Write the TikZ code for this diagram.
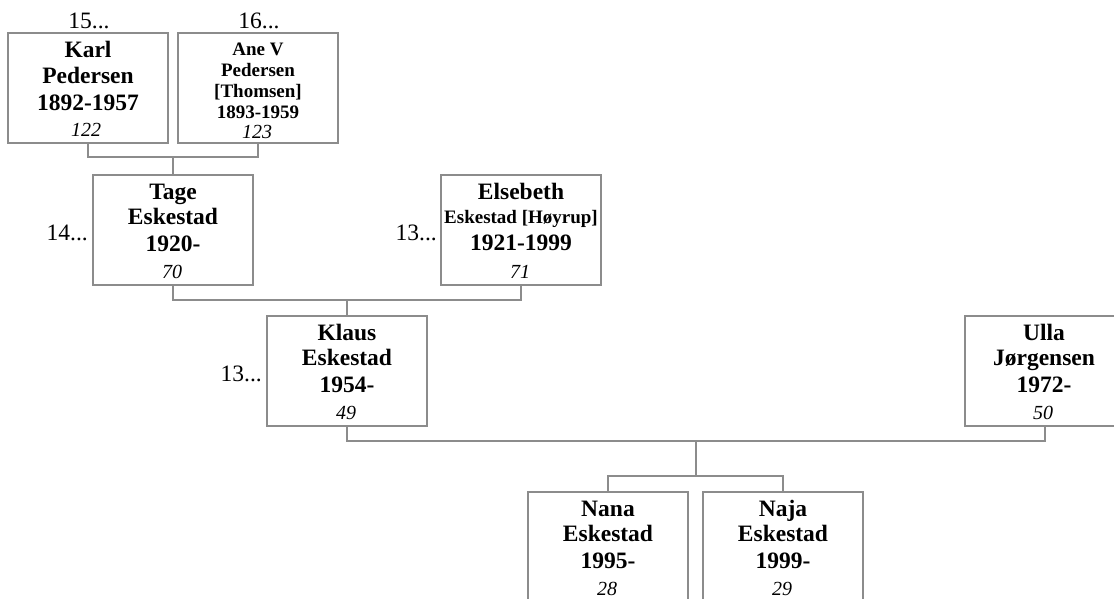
\documentclass[tikz,border=0pt]{standalone}
\usepackage{fontspec}
\setmainfont{Liberation Serif}
\definecolor{frame}{RGB}{140,140,140}
\begin{document}
\begin{tikzpicture}[x=1pt,y=-1pt,
  box/.style={draw=frame,line width=1.2pt,minimum width=160pt,minimum height=110pt,inner sep=0pt,fill=white},
  wire/.style={draw=frame,line width=1.2pt},
  big/.style={anchor=base,inner sep=0pt,font=\fontsize{23.5}{26}\selectfont\bfseries},
  mid/.style={anchor=base,inner sep=0pt,font=\fontsize{19}{21}\selectfont\bfseries},
  num/.style={anchor=base,inner sep=0pt,font=\fontsize{20}{21}\selectfont\itshape},
  gen/.style={anchor=base,inner sep=0pt,font=\fontsize{23.5}{26}\selectfont},
]
\useasboundingbox (0,0) rectangle (1114,598);
\clip (0,0) rectangle (1114,598);

% boxes
\node[box] (karl)  at (88,88)   {};
\node[box] (ane)   at (258,88)  {};
\node[box] (tage)  at (173,230) {};
\node[box] (else)  at (521,230) {};
\node[box] (klaus) at (347,371) {};
\node[box] (ulla)  at (1045,371) {};
\node[box] (nana)  at (608,547) {};
\node[box] (naja)  at (783,547) {};

% connectors
\coordinate (j1) at (173,157);
\draw[wire] (karl.south) |- (j1) -| (ane.south);
\draw[wire] (j1) -- (tage.north);
\coordinate (j2) at (347,300);
\draw[wire] (tage.south) |- (j2) -| (else.south);
\draw[wire] (j2) -- (klaus.north);
\coordinate (j3) at (696,441);
\coordinate (j4) at (696,476);
\draw[wire] (klaus.south) |- (j3) -| (ulla.south);
\draw[wire] (j3) -- (j4);
\draw[wire] (nana.north) |- (j4) -| (naja.north);

% generation labels
\node[gen] (g15) at (89,28) {15...};
\node[gen] (g16) at (259,28) {16...};
\node[gen,anchor=base east] (g14) at (88,240) {14...};
\node[gen,anchor=base east] (g13a) at (437,240) {13...};
\node[gen,anchor=base east] (g13b) at (262,381) {13...};

% Karl
\node[big] (karl1) at (88,57)  {Karl};
\node[big] (karl2) at (88,83)  {Pedersen};
\node[big] (karl3) at (88,110) {1892-1957};
\node[num] (karl4) at (86,136) {122};
% Ane
\node[mid] (ane1) at (258,55)  {Ane V};
\node[mid] (ane2) at (258,76)  {Pedersen};
\node[mid] (ane3) at (258,97)  {[Thomsen]};
\node[mid] (ane4) at (258,118) {1893-1959};
\node[num] (ane5) at (257,138) {123};
% Tage
\node[big] (tage1) at (173,199) {Tage};
\node[big] (tage2) at (173,224) {Eskestad};
\node[big] (tage3) at (173,251) {1920-};
\node[num] (tage4) at (172,278) {70};
% Elsebeth
\node[big] (else1) at (521,199) {Elsebeth};
\node[mid] (else2) at (521,223) {Eskestad [Høyrup]};
\node[big] (else3) at (521,250) {1921-1999};
\node[num] (else4) at (520,278) {71};
% Klaus
\node[big] (klaus1) at (347,340) {Klaus};
\node[big] (klaus2) at (347,365) {Eskestad};
\node[big] (klaus3) at (347,392) {1954-};
\node[num] (klaus4) at (346,419) {49};
% Ulla
\node[big] (ulla1) at (1044,340) {Ulla};
\node[big] (ulla2) at (1044,365) {Jørgensen};
\node[big] (ulla3) at (1044,392) {1972-};
\node[num] (ulla4) at (1043,419) {50};
% Nana
\node[big] (nana1) at (608,516) {Nana};
\node[big] (nana2) at (608,541) {Eskestad};
\node[big] (nana3) at (608,568) {1995-};
\node[num] (nana4) at (607,595) {28};
% Naja
\node[big] (naja1) at (783,516) {Naja};
\node[big] (naja2) at (783,541) {Eskestad};
\node[big] (naja3) at (783,568) {1999-};
\node[num] (naja4) at (782,595) {29};
\end{tikzpicture}
\end{document}
